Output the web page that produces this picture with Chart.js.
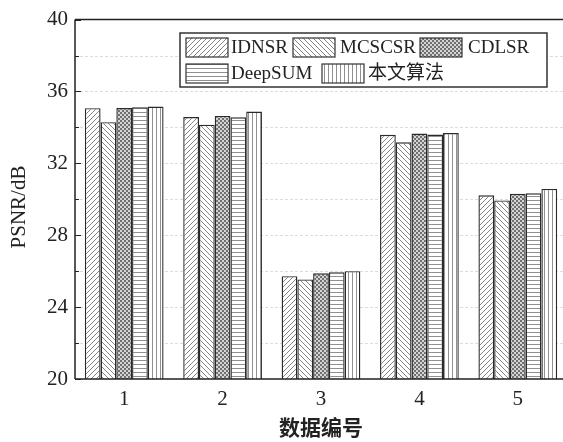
<!DOCTYPE html>
<html>
<head>
<meta charset="utf-8">
<script src="https://cdn.jsdelivr.net/npm/chart.js@4"></script>
<style>
  html, body { margin: 0; padding: 0; background: #fff; overflow: hidden; }
  #wrap { width: 570px; height: 442px; }
</style>
</head>
<body>
<div id="wrap"><canvas id="c" width="570" height="442"></canvas></div>
<script>
// Dataset numbers (x axis) and PSNR results (dB) for each method
const categories = ['1', '2', '3', '4', '5'];
const methods = ['IDNSR', 'MCSCSR', 'CDLSR', 'DeepSUM', '本文算法'];
const idnsr   = [35.07, 34.58, 25.72, 33.59, 30.22];
const mcscsr  = [34.29, 34.15, 25.54, 33.17, 29.94];
const cdlsr   = [35.08, 34.64, 25.88, 33.66, 30.31];
const deepsum = [35.12, 34.56, 25.94, 33.60, 30.33];
const ours    = [35.16, 34.88, 26.00, 33.69, 30.58];
const yTicks  = [20, 24, 28, 32, 36, 40];

// Hatch fills
function makePattern(kind) {
  const s = kind === 'checker' ? 4 : (kind === 'fwd' || kind === 'back') ? 5 : 4;
  const cv = document.createElement('canvas');
  cv.width = s; cv.height = s;
  const g = cv.getContext('2d');
  g.fillStyle = '#fff';
  g.fillRect(0, 0, s, s);
  g.strokeStyle = '#858585';
  g.lineWidth = 1;
  if (kind === 'fwd') {
    g.beginPath();
    g.moveTo(0, s); g.lineTo(s, 0);
    g.moveTo(-1, 1); g.lineTo(1, -1);
    g.moveTo(s - 1, s + 1); g.lineTo(s + 1, s - 1);
    g.stroke();
  } else if (kind === 'back') {
    g.beginPath();
    g.moveTo(0, 0); g.lineTo(s, s);
    g.moveTo(s - 1, -1); g.lineTo(s + 1, 1);
    g.moveTo(-1, s - 1); g.lineTo(1, s + 1);
    g.stroke();
  } else if (kind === 'checker') {
    g.fillStyle = '#d4d4d4';
    g.fillRect(0, 0, s, s);
    g.fillStyle = '#707070';
    g.fillRect(0, 0, 2, 2);
    g.fillRect(2, 2, 2, 2);
  } else if (kind === 'horiz') {
    g.strokeStyle = '#909090';
    g.beginPath(); g.moveTo(0, 0.5); g.lineTo(s, 0.5); g.stroke();
  } else if (kind === 'vert') {
    g.strokeStyle = '#909090';
    g.beginPath(); g.moveTo(0.5, 0); g.lineTo(0.5, s); g.stroke();
  }
  return g.createPattern(cv, 'repeat');
}

const ctx = document.getElementById('c').getContext('2d');
const fills = ['fwd', 'back', 'checker', 'horiz', 'vert'].map(makePattern);
const series = [idnsr, mcscsr, cdlsr, deepsum, ours];

const serif = "'Liberation Serif', 'Times New Roman', serif";
const cjk = "'Liberation Serif', 'Noto Sans CJK SC', serif";

// Faint dashed grid behind the bars
const dashedGrid = {
  id: 'dashedGrid',
  beforeDatasetsDraw(chart) {
    const c = chart.ctx;
    const a = chart.chartArea;
    const y = chart.scales.y;
    c.save();
    c.strokeStyle = '#dcdcdc';
    c.lineWidth = 1;
    c.setLineDash([3, 2]);
    for (let v = 22; v < 40; v += 2) {
      const py = Math.round(y.getPixelForValue(v)) + 0.5;
      c.beginPath(); c.moveTo(a.left, py); c.lineTo(chart.width, py); c.stroke();
    }
    c.restore();
  }
};

// Frame, inward tick marks, y title and boxed legend
const decor = {
  id: 'decor',
  afterDraw(chart) {
    const c = chart.ctx;
    const a = chart.chartArea;
    const y = chart.scales.y;
    c.save();
    c.strokeStyle = '#222';
    c.lineWidth = 1.5;
    c.beginPath();
    c.moveTo(a.left, a.top); c.lineTo(chart.width, a.top);
    c.moveTo(a.left, a.top); c.lineTo(a.left, a.bottom);
    c.moveTo(a.left, a.bottom); c.lineTo(chart.width, a.bottom);
    c.stroke();
    c.lineWidth = 1;
    for (let v = 20; v <= 40; v += 2) {
      const py = Math.round(y.getPixelForValue(v)) + 0.5;
      const len = v % 4 === 0 ? 6 : 4;
      c.beginPath(); c.moveTo(a.left, py); c.lineTo(a.left + len, py); c.stroke();
    }
    // y axis title
    c.fillStyle = '#222';
    c.font = '21px ' + serif;
    c.textAlign = 'center';
    c.textBaseline = 'middle';
    c.translate(19, 207);
    c.rotate(-Math.PI / 2);
    c.fillText('PSNR/dB', 0, 0);
    c.restore();

    // legend
    c.save();
    c.fillStyle = '#fff';
    c.fillRect(180, 33, 367, 54);
    c.strokeStyle = '#333';
    c.lineWidth = 1.5;
    c.strokeRect(180, 33, 367, 54);
    const items = [
      [186, 38, 231], [293, 38, 340], [420, 38, 468],
      [186, 64, 231], [322, 64, 368]
    ];
    c.font = '19px ' + cjk;
    c.textAlign = 'left';
    c.textBaseline = 'middle';
    chart.data.datasets.forEach((ds, i) => {
      const [sx, sy, tx] = items[i];
      c.fillStyle = ds.backgroundColor;
      c.fillRect(sx, sy, 42, 19);
      c.strokeStyle = '#333';
      c.lineWidth = 1.2;
      c.strokeRect(sx, sy, 42, 19);
      c.fillStyle = '#222';
      c.fillText(ds.label, tx, sy + 10);
    });
    c.restore();
  }
};

new Chart(ctx, {
  type: 'bar',
  data: {
    labels: categories,
    datasets: methods.map((m, i) => ({
      label: m,
      data: series[i],
      backgroundColor: fills[i],
      borderColor: '#2a2a2a',
      borderWidth: 1.4,
      borderSkipped: false,
      barPercentage: 1.0,
      categoryPercentage: 0.8
    }))
  },
  options: {
    responsive: false,
    animation: false,
    devicePixelRatio: 1,
    layout: { padding: { top: 19, right: 3, left: 0, bottom: 0 } },
    plugins: { legend: { display: false }, tooltip: { enabled: false } },
    scales: {
      x: {
        grid: { display: false, drawTicks: false },
        border: { display: false },
        ticks: { color: '#222', font: { family: serif, size: 21 }, padding: 8 },
        title: {
          display: true,
          text: '数据编号',
          color: '#222',
          font: { family: "'Noto Sans CJK SC'", size: 21, weight: 'bold' },
          padding: { top: 0, bottom: 2 }
        },
        afterFit(s) { s.height = 63; }
      },
      y: {
        min: 20,
        max: 40,
        grid: { display: false, drawTicks: false },
        border: { display: false },
        ticks: {
          stepSize: 2,
          color: '#222',
          font: { family: serif, size: 21 },
          padding: 7,
          autoSkip: false,
          callback: v => (yTicks.includes(v) ? String(v) : '')
        },
        afterFit(s) { s.width = 75; }
      }
    }
  },
  plugins: [dashedGrid, decor]
});
</script>
</body>
</html>
